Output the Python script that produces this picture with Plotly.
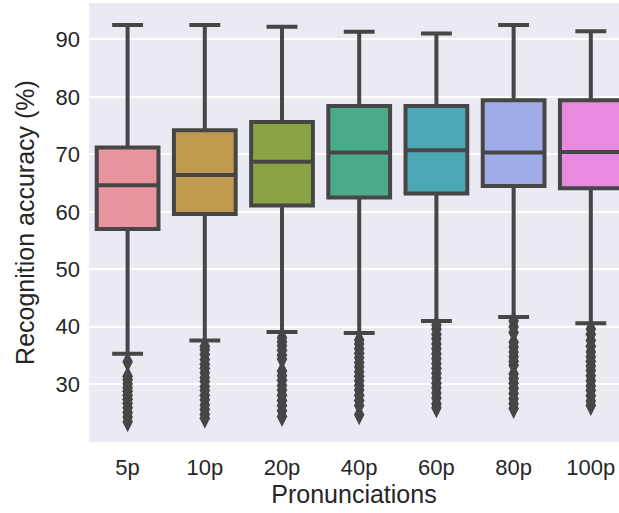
import plotly.graph_objects as go

# Pronunciation counts (x categories)
categories = ["5p", "10p", "20p", "40p", "60p", "80p", "100p"]

# Box summary statistics: recognition accuracy (%)
upper_fence = [92.5, 92.5, 92.2, 91.3, 91.0, 92.5, 91.4]
q3 = [71.2, 74.2, 75.6, 78.4, 78.4, 79.4, 79.4]
median = [64.6, 66.4, 68.7, 70.3, 70.7, 70.3, 70.4]
q1 = [57.0, 59.6, 61.1, 62.5, 63.2, 64.5, 64.1]
lower_fence = [35.3, 37.6, 39.1, 38.9, 41.0, 41.7, 40.6]

# Outliers below the lower whisker
outliers = {
    "5p": [33.9, 31.4, 30.8, 30.1, 29.4, 28.8, 28.1, 27.4, 26.7, 25.9, 25.1, 24.3, 23.5],
    "10p": [36.6, 36.0, 35.2, 34.3, 33.5, 32.8, 32.0, 31.2, 30.5, 29.6, 28.9,
            28.1, 27.3, 26.4, 25.6, 24.8, 24.1],
    "20p": [38.1, 37.4, 36.7, 35.9, 35.1, 34.4, 32.3, 31.5, 30.7, 29.8, 29.0,
            28.1, 27.2, 26.3, 25.4, 24.4],
    "40p": [37.7, 37.0, 36.2, 35.4, 34.6, 33.8, 33.0, 32.2, 31.4, 30.6, 29.8,
            29.0, 28.1, 27.2, 26.3, 24.7],
    "60p": [40.3, 39.6, 38.7, 37.9, 37.0, 36.2, 35.3, 34.5, 33.6, 32.8, 31.9,
            31.1, 30.2, 29.4, 28.5, 27.6, 26.6, 25.9],
    "80p": [41.0, 40.0, 39.0, 37.3, 36.5, 35.6, 34.8, 34.0, 33.3, 31.8, 31.0,
            30.2, 29.3, 28.4, 27.5, 26.6, 25.8],
    "100p": [39.6, 38.7, 37.6, 36.6, 35.6, 34.8, 34.0, 33.2, 32.4, 31.5, 30.6,
             29.7, 28.9, 28.0, 27.1, 26.3],
}

box_colors = ["#e8949f", "#c09a4e", "#8aa344", "#4aaa8c", "#4ca8b5", "#a0ace8", "#e88add"]
edge = "#464646"
font_family = "Liberation Sans, Arial, sans-serif"

fig = go.Figure()

for i, cat in enumerate(categories):
    fig.add_trace(go.Box(
        x=[cat],
        q1=[q1[i]],
        median=[median[i]],
        q3=[q3[i]],
        lowerfence=[lower_fence[i]],
        upperfence=[upper_fence[i]],
        boxpoints=False,
        width=0.8,
        whiskerwidth=0.5,
        fillcolor=box_colors[i],
        line=dict(color=edge, width=4),
        showlegend=False,
        hoverinfo="skip",
    ))
    pts = outliers[cat]
    fig.add_trace(go.Scatter(
        x=[cat] * len(pts),
        y=pts,
        mode="markers",
        marker=dict(symbol="diamond-tall", size=15, color=edge, line=dict(width=0)),
        showlegend=False,
        hoverinfo="skip",
    ))

fig.update_layout(
    width=619,
    height=513,
    margin=dict(l=89, r=0, t=3, b=71),
    paper_bgcolor="white",
    plot_bgcolor="#eaeaf2",
    font=dict(family=font_family, size=22, color="#262626"),
    xaxis=dict(
        title=dict(text="Pronunciations", font=dict(size=25), standoff=1),
        type="category",
        categoryorder="array",
        categoryarray=categories,
        range=[-0.5, 6.365],
        showgrid=False,
        zeroline=False,
        showline=False,
        ticks="",
        ticklabelstandoff=10,
    ),
    yaxis=dict(
        title=dict(text="Recognition accuracy (%)", font=dict(size=25), standoff=13),
        range=[19.96, 96.32],
        tickvals=[30, 40, 50, 60, 70, 80, 90],
        showgrid=True,
        gridcolor="white",
        gridwidth=2,
        zeroline=False,
        showline=False,
        ticks="",
        ticklabelstandoff=8,
    ),
)

fig.write_html("out.html")
